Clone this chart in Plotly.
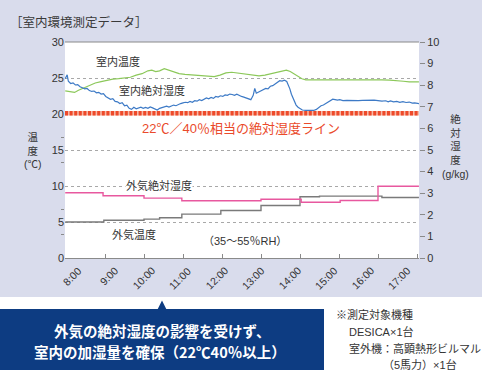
import plotly.graph_objects as go

# ---------------- data ----------------
HOURS = [8, 9, 10, 11, 12, 13, 14, 15, 16, 17]
HOUR_LABELS = ["8:00", "9:00", "10:00", "11:00", "12:00", "13:00", "14:00", "15:00", "16:00", "17:00"]
LEFT_TICKS = [0, 5, 10, 15, 20, 25, 30]
LEFT_MINOR_TICKS = [3.33, 6.67, 13.33, 16.67]
RIGHT_TICKS = [0, 1, 2, 3, 4, 5, 6, 7, 8, 9, 10]

# indoor temperature (deg C, left axis)
IN_TEMP_T = [7.98, 8.12, 8.22, 8.32, 8.45, 8.60, 8.75, 8.90, 9.05, 9.20, 9.35, 9.50, 9.65, 9.80,
             9.95, 10.10, 10.20, 10.30, 10.40, 10.52, 10.62, 10.75, 10.90, 11.05, 11.25, 11.45,
             11.65, 11.80, 11.95, 12.10, 12.25, 12.40, 12.55, 12.75, 12.95, 13.10, 13.25, 13.40,
             13.55, 13.65, 13.75, 13.85, 13.95, 14.05, 14.15, 14.30, 14.50, 14.70, 14.90, 15.10,
             15.30, 15.50, 15.70, 15.90, 16.10, 16.30, 16.50, 16.65, 16.80, 17.05]
IN_TEMP = [23.2, 23.1, 23.0, 23.3, 23.6, 23.9, 24.3, 24.5, 24.7, 24.85, 24.9, 24.95, 25.1, 25.4,
           25.6, 26.0, 26.1, 25.9, 26.0, 26.3, 26.1, 25.8, 25.6, 25.5, 25.4, 25.3,
           25.2, 25.2, 25.4, 25.7, 25.8, 25.7, 25.5, 25.4, 25.3, 25.4, 25.6, 25.8,
           26.0, 26.1, 25.9, 25.6, 25.3, 24.9, 24.75, 24.75, 24.85, 24.85, 24.8, 24.85,
           24.8, 24.75, 24.8, 24.75, 24.75, 24.7, 24.65, 24.55, 24.45, 24.45]

# indoor absolute humidity (g/kg, right axis)
IN_AH_T = [7.98, 8.03, 8.06, 8.12, 8.18, 8.24, 8.30, 8.36, 8.42, 8.48, 8.54, 8.60, 8.66, 8.72, 8.78,
           8.84, 8.90, 8.96, 9.02, 9.08, 9.14, 9.20, 9.26, 9.32, 9.38, 9.44, 9.50, 9.56, 9.62,
           9.68, 9.74, 9.80, 9.86, 9.92, 9.98, 10.04, 10.10, 10.16, 10.22, 10.28, 10.34, 10.40,
           10.46, 10.52, 10.58, 10.64, 10.70, 10.76, 10.82, 10.88, 10.94, 11.00, 11.06, 11.12,
           11.18, 11.24, 11.30, 11.36, 11.42, 11.48, 11.54, 11.60, 11.66, 11.72, 11.78, 11.84,
           11.90, 11.96, 12.02, 12.08, 12.14, 12.20, 12.26, 12.32, 12.38, 12.44, 12.50, 12.56,
           12.62, 12.68, 12.74, 12.80, 12.84, 12.88, 12.94, 13.00, 13.06, 13.12, 13.18, 13.24,
           13.30, 13.36, 13.42, 13.48, 13.54, 13.60, 13.66, 13.70, 13.74, 13.78, 13.82, 13.86,
           13.90, 13.95, 14.00, 14.06, 14.15, 14.25, 14.35, 14.42, 14.48, 14.54, 14.60, 14.66,
           14.72, 14.78, 14.84, 14.90, 14.96, 15.02, 15.10, 15.20, 15.30, 15.40, 15.50, 15.60,
           15.70, 15.80, 15.90, 16.00, 16.10, 16.20, 16.26, 16.32, 16.40, 16.48, 16.56, 16.64,
           16.72, 16.80, 16.88, 16.94, 17.05]
IN_AH = [8.30, 8.48, 8.18, 8.08, 8.11, 8.01, 8.03, 7.93, 7.88, 7.83, 7.85, 7.75, 7.71, 7.73, 7.65,
         7.67, 7.59, 7.61, 7.48, 7.43, 7.35, 7.38, 7.25, 7.23, 7.15, 7.19, 7.05, 7.08, 6.93,
         6.88, 6.98, 6.91, 6.95, 6.98, 6.93, 6.97, 6.93, 6.99, 6.95, 6.91, 6.85, 6.93,
         6.97, 7.01, 7.03, 6.99, 7.05, 7.08, 7.05, 7.11, 7.15, 7.18, 7.21, 7.19,
         7.25, 7.21, 7.28, 7.26, 7.33, 7.29, 7.35, 7.41, 7.37, 7.43, 7.39, 7.48,
         7.45, 7.51, 7.48, 7.55, 7.53, 7.59, 7.57, 7.53, 7.58, 7.51, 7.48, 7.45,
         7.41, 7.35, 7.33, 7.53, 7.85, 7.63, 7.68, 7.75, 7.78, 7.85, 7.83, 7.95,
         7.98, 8.05, 8.15, 8.21, 8.19, 8.23, 8.17, 8.03, 7.83, 7.58, 7.38, 7.21,
         7.08, 6.98, 6.90, 6.85, 6.83, 6.82, 6.83, 6.88, 6.98, 7.05, 7.08, 7.15,
         7.21, 7.29, 7.35, 7.33, 7.31, 7.33, 7.29, 7.30, 7.29, 7.31, 7.29, 7.30,
         7.31, 7.29, 7.31, 7.29, 7.26, 7.28, 7.23, 7.27, 7.23, 7.25, 7.21, 7.24,
         7.20, 7.22, 7.17, 7.18, 7.15]

# outdoor temperature (deg C, left axis) - stepped
OUT_TEMP_T = [7.98, 8.97, 10.0, 10.4, 10.97, 11.97, 13.0, 14.0, 14.5, 16.1, 17.05]
OUT_TEMP = [5.0, 5.25, 5.4, 5.6, 6.1, 6.6, 7.3, 8.5, 8.6, 8.4, 8.4]

# outdoor absolute humidity (g/kg, right axis) - stepped
OUT_AH_T = [7.98, 8.95, 10.0, 10.97, 13.0, 14.03, 15.03, 16.0, 17.05]
OUT_AH = [3.02, 2.88, 2.77, 2.65, 2.72, 2.58, 2.66, 3.32, 3.32]

# 22 deg C / 40 % reference absolute humidity (g/kg)
REF_AH = 6.7

# ---------------- layout helpers ----------------
W, H = 485, 370
ML, MR, MT, MB = 65, 66, 42, 112
PW, PH = W - ML - MR, H - MT - MB


def px(x):
    return (x - ML) / PW


def py(y):
    return (H - MB - y) / PH


JP = "Liberation Sans, Arial, Noto Sans CJK JP, sans-serif"
TXT = "#333333"
AXC = "#8a8a8a"

fig = go.Figure()

fig.add_trace(go.Scatter(x=IN_TEMP_T, y=IN_TEMP, mode="lines", yaxis="y",
                         line=dict(color="#8cc85a", width=1.2), showlegend=False))
fig.add_trace(go.Scatter(x=IN_AH_T, y=IN_AH, mode="lines", yaxis="y2",
                         line=dict(color="#3d7ac6", width=1.2), showlegend=False))
fig.add_trace(go.Scatter(x=OUT_TEMP_T, y=OUT_TEMP, mode="lines", yaxis="y", line_shape="hv",
                         line=dict(color="#7a7a7a", width=1.4), showlegend=False))
fig.add_trace(go.Scatter(x=OUT_AH_T, y=OUT_AH, mode="lines", yaxis="y2", line_shape="hv",
                         line=dict(color="#e8589f", width=1.4), showlegend=False))

shapes = [
    # lavender panel
    dict(type="rect", xref="paper", yref="paper", x0=px(0), x1=px(482), y0=py(297), y1=py(0),
         fillcolor="#d9dcec", line=dict(width=0), layer="below"),
    # white plot area
    dict(type="rect", xref="paper", yref="paper", x0=0, x1=1, y0=0, y1=1,
         fillcolor="white", line=dict(width=0), layer="below"),
    # top border
    dict(type="line", xref="paper", yref="paper", x0=0, x1=1, y0=1, y1=1,
         line=dict(color=AXC, width=1.2)),
    # reference line (22C/40%)
    dict(type="line", xref="paper", yref="y2", x0=0, x1=1, y0=REF_AH, y1=REF_AH,
         line=dict(color="#f6b9a8", width=4.5)),
    dict(type="line", xref="paper", yref="y2", x0=0, x1=1, y0=REF_AH, y1=REF_AH,
         line=dict(color="#ee4a2a", width=4.5, dash="3px,1.6px")),
    # callout box
    dict(type="rect", xref="paper", yref="paper", x0=px(0), x1=px(324), y0=py(370), y1=py(309),
         fillcolor="#0d3c82", line=dict(width=0)),
    dict(type="path", xref="paper", yref="paper",
         path=f"M {px(157.5)},{py(309.5)} L {px(166.5)},{py(309.5)} L {px(162)},{py(300.5)} Z",
         fillcolor="#0d3c82", line=dict(width=0)),
]

annotations = []


def note(text, x, y, size=11, color=TXT, xanchor="center", bg=None, **kw):
    d = dict(text=text, xref="paper", yref="paper", x=px(x), y=py(y), showarrow=False,
             xanchor=xanchor, yanchor="middle", font=dict(family=JP, size=size, color=color))
    if bg:
        d["bgcolor"] = bg
        d["borderpad"] = 0
    d.update(kw)
    annotations.append(d)


note("［室内環境測定データ］", 79, 22, size=12.5, color="#3a3a3a")
note("室内温度", 118, 62, size=11)
note("室内絶対湿度", 152, 90, size=11)
note("22℃／40％相当の絶対湿度ライン", 241, 128, size=13, color="#ea4a2b")
note("外気絶対湿度", 159, 185, size=11, bg="white")
note("外気温度", 134, 234, size=11)
note("（35〜55％RH）", 245, 241, size=11)
note("温<br>度<br>(℃)", 33, 150, size=10.5)
note("絶<br>対<br>湿<br>度<br>(g/kg)", 455, 146, size=10.5)

# x tick labels (rotated)
for i, (h, lab) in enumerate(zip(HOURS, HOUR_LABELS)):
    annotations.append(dict(text=lab, xref="x", yref="paper", x=h, y=py(262),
                            xshift=21 - 2.5 * i, showarrow=False, textangle=-45,
                            xanchor="right", yanchor="top",
                            font=dict(family=JP, size=10.5, color=TXT)))

# callout text
note("外気の絶対湿度の影響を受けず、", 162, 330, size=14.5, color="white")
note("室内の加湿量を確保（22℃40％以上）", 160, 351, size=14.5, color="white")
for a in annotations[-2:]:
    a["font"]["family"] = "Noto Sans CJK JP, sans-serif"
    a["font"]["weight"] = "bold"

# footnote
note("※測定対象機種", 334, 314, size=11, xanchor="left")
note("DESICA×1台", 347, 331, size=11, xanchor="left")
note("室外機：高顕熱形ビルマル", 347, 348, size=11, xanchor="left")
note("（5馬力）×1台", 381, 364, size=11, xanchor="left")

fig.update_layout(
    width=W, height=H,
    margin=dict(l=ML, r=MR, t=MT, b=MB, pad=0),
    paper_bgcolor="white", plot_bgcolor="rgba(0,0,0,0)",
    font=dict(family=JP, size=11, color=TXT),
    shapes=shapes, annotations=annotations,
    xaxis=dict(range=[8 - 1 / 39, 8 + 353 / 39], tickvals=HOURS, showticklabels=False,
               ticks="inside", ticklen=4, tickcolor=AXC, showline=True, linecolor=AXC,
               linewidth=1.2, showgrid=False, zeroline=False, fixedrange=True),
    yaxis=dict(range=[0, 30], tickvals=LEFT_TICKS, ticks="", showgrid=True, griddash="dot",
               gridcolor="#a8a8a8", gridwidth=1, zeroline=False, showline=False,
               tickfont=dict(size=11, color=TXT),
               minor=dict(tickvals=LEFT_MINOR_TICKS, ticks="outside", ticklen=3,
                          tickcolor=AXC, showgrid=False)),
    yaxis2=dict(range=[0, 10], tickvals=RIGHT_TICKS, overlaying="y", side="right",
                ticks="outside", ticklen=5, tickcolor=AXC, showgrid=False, zeroline=False,
                showline=False, tickfont=dict(size=11, color=TXT)),
)

fig.write_html("out.html", config={"displayModeBar": False},
               post_script="document.body.style.margin='0';document.body.style.overflow='hidden';")
